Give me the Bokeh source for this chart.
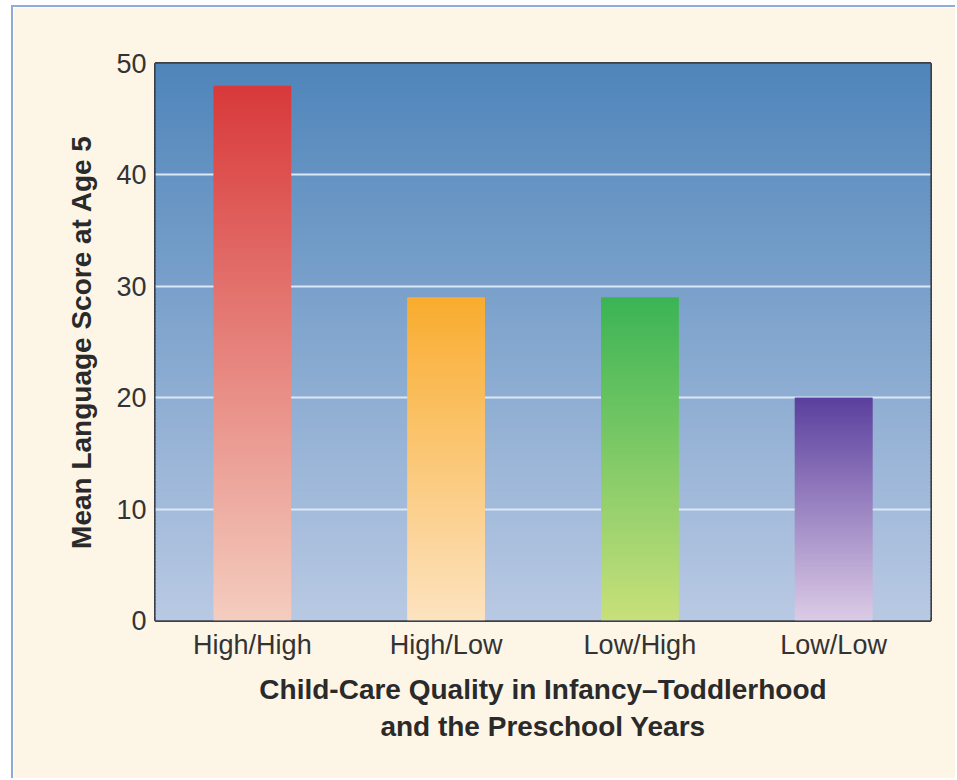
from bokeh.plotting import figure
from bokeh.models import FixedTicker, Range1d
from bokeh.embed import file_html
from bokeh.resources import INLINE

# ---- data ----
categories = ["High/High", "High/Low", "Low/High", "Low/Low"]
scores = [48, 29, 29, 20]
y_ticks = [0, 10, 20, 30, 40, 50]

# ---- styling ----
bar_top_colors = ["#D8393A", "#F9AC2E", "#3BB455", "#5B3F9E"]
bar_bottom_colors = ["#F4CDBF", "#FDE3C0", "#C8E07A", "#DCCBE6"]
bg_top, bg_bottom = "#4F85BA", "#B9C9E3"
cream = "#FDF5E6"
N = 160


def hex2rgb(h):
    h = h.lstrip("#")
    return tuple(int(h[i:i + 2], 16) for i in (0, 2, 4))


def mix(c0, c1, t):
    a, b = hex2rgb(c0), hex2rgb(c1)
    return "#%02x%02x%02x" % tuple(round(a[k] + (b[k] - a[k]) * t) for k in range(3))


p = figure(width=944, height=773, output_backend="svg", toolbar_location=None,
           x_range=Range1d(0, len(categories)), y_range=Range1d(0, 50),
           min_border_left=142, min_border_right=27, min_border_top=56, min_border_bottom=160,
           background_fill_color=bg_bottom, border_fill_color=cream,
           outline_line_color="#3A3F48", outline_line_width=3)

# background gradient
ymax = y_ticks[-1]
bl, bt, bc = [], [], []
for j in range(N):
    y0 = ymax * j / N
    y1 = ymax * (j + 1) / N
    bl.append(y0)
    bt.append(min(y1 + 0.2, ymax))
    bc.append(mix(bg_bottom, bg_top, (j + 0.5) / N))
p.quad(left=0, right=len(categories), bottom=bl, top=bt, fill_color=bc,
       line_color=None, level="image")

# gradient bars
half = 0.2
for i, (v, ctop, cbot) in enumerate(zip(scores, bar_top_colors, bar_bottom_colors)):
    xs = i + 0.5
    bots, tops, cols = [], [], []
    for j in range(N):
        y0 = v * j / N
        y1 = v * (j + 1) / N
        bots.append(y0)
        tops.append(min(y1 + 0.2, v))
        cols.append(mix(cbot, ctop, (j + 0.5) / N))
    p.quad(left=xs - half, right=xs + half, bottom=bots, top=tops,
           fill_color=cols, line_color=None)

# grid
p.xgrid.visible = False
p.ygrid.grid_line_color = "#DCE8F6"
p.ygrid.grid_line_width = 2
p.ygrid.ticker = FixedTicker(ticks=y_ticks)

# axes
p.yaxis.ticker = FixedTicker(ticks=y_ticks)
p.xaxis.ticker = FixedTicker(ticks=[i + 0.5 for i in range(len(categories))])
p.xaxis.major_label_overrides = {i + 0.5: c for i, c in enumerate(categories)}
for ax in (p.xaxis, p.yaxis):
    ax.axis_line_color = None
    ax.major_tick_line_color = None
    ax.minor_tick_line_color = None
    ax.major_label_text_font = "Liberation Sans"
    ax.major_label_text_font_size = "27px"
    ax.major_label_text_color = "#333333"
    ax.axis_label_text_font = "Liberation Sans"
    ax.axis_label_text_font_size = "28px"
    ax.axis_label_text_font_style = "bold"
    ax.axis_label_text_color = "#2A2A2A"

p.yaxis.major_label_standoff = 3
p.xaxis.major_label_standoff = 3
p.yaxis.axis_label = "Mean Language Score at Age 5"
p.yaxis.axis_label_standoff = 16
p.xaxis.axis_label = "Child-Care Quality in Infancy\u2013Toddlerhood\nand the Preschool Years"
p.xaxis.axis_label_standoff = 11

p.styles = {"border-left": "2px solid #8EACD9", "border-top": "2px solid #8EACD9",
            "margin-left": "11px", "margin-top": "5px"}

open("out.html", "w").write(file_html(p, INLINE))
